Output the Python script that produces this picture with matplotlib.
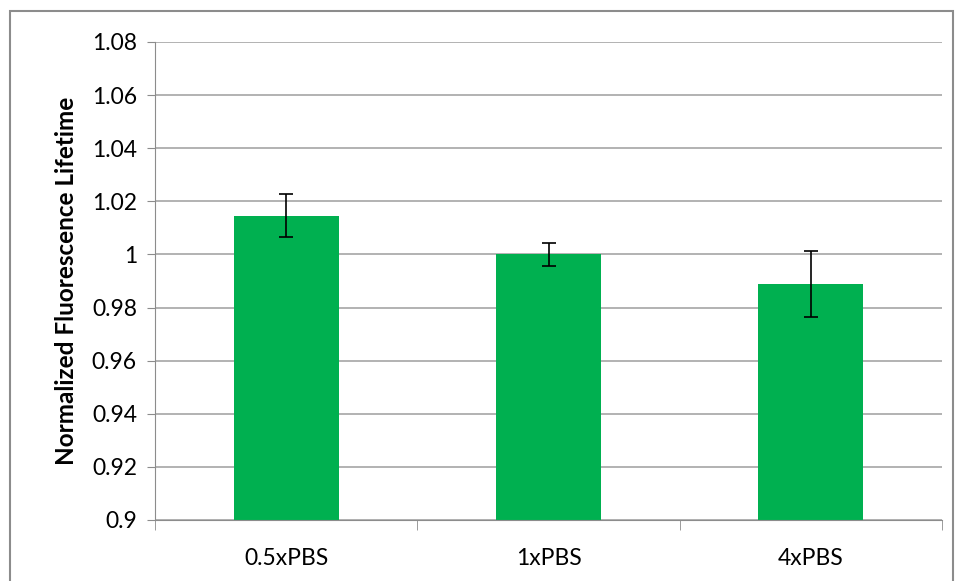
import matplotlib
matplotlib.use("Agg")
import matplotlib.pyplot as plt
from matplotlib.patches import Rectangle
import numpy as np

categories = ["0.5xPBS", "1xPBS", "4xPBS"]
lifetime = [1.0145, 1.0000, 0.9889]
errors = [0.0081, 0.0042, 0.0123]
yticks = [0.9, 0.92, 0.94, 0.96, 0.98, 1.0, 1.02, 1.04, 1.06, 1.08]
ytick_labels = ["0.9", "0.92", "0.94", "0.96", "0.98", "1", "1.02", "1.04", "1.06", "1.08"]

plt.rcParams['font.family'] = ['Lato', 'DejaVu Sans']

fig = plt.figure(figsize=(9.58, 5.81), dpi=100)
ax = fig.add_axes([155/958, 1 - 520/581, (942-155)/958, (520-42)/581])

# outer chart border like the Excel chart area
fig.patches.append(Rectangle((10/958, -0.05), 0.995 - 10/958, 1 - 11/581 + 0.05,
                             transform=fig.transFigure, fill=False,
                             edgecolor="#8c8c8c", linewidth=1.5))

x = np.arange(len(categories))
ax.bar(x, lifetime, width=0.4, color="#00B050", zorder=2)
ax.errorbar(x, lifetime, yerr=errors, fmt="none", ecolor="black",
            elinewidth=1.2, capsize=5, capthick=1.2, zorder=3)

ax.set_xlim(-0.5, 2.5)
ax.set_ylim(0.9, 1.08)
ax.set_yticks(yticks)
ax.set_yticklabels(ytick_labels)
ax.set_xticks(x)
ax.set_xticklabels(categories)
ax.set_xticks([-0.5, 0.5, 1.5, 2.5], minor=True)
ax.tick_params(axis="x", which="major", length=0, pad=20, labelsize=16.5)
ax.tick_params(axis="x", which="minor", length=7, color="#8c8c8c")
ax.tick_params(axis="y", length=6, color="#8c8c8c", labelsize=16.5, pad=7)

ax.grid(axis="y", color="#a6a6a6", linewidth=1.2, zorder=0)
ax.set_axisbelow(True)
for s in ["top", "right"]:
    ax.spines[s].set_visible(False)
ax.spines["left"].set_color("#8c8c8c")
ax.spines["bottom"].set_color("#8c8c8c")

ax.set_ylabel("Normalized Fluorescence Lifetime", fontsize=17.5, fontweight="bold", labelpad=10)

fig.savefig("out.png", dpi=100)
